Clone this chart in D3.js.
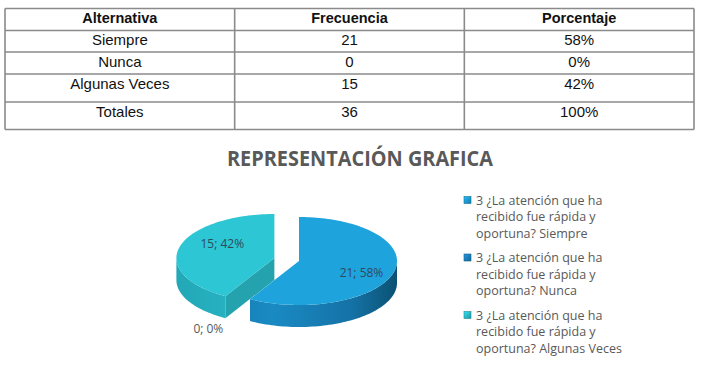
<!DOCTYPE html>
<html><head><meta charset="utf-8">
<script src="https://cdn.jsdelivr.net/npm/d3@7"></script>
<style>html,body{margin:0;padding:0;background:#fff;}svg{display:block;}</style>
</head><body>
<script>
const headers = ["Alternativa", "Frecuencia", "Porcentaje"];
const categories = ["Siempre", "Nunca", "Algunas Veces"];
const frecuencia = [21, 0, 15];
const porcentaje = ["58%", "0%", "42%"];
const totalRow = ["Totales", "36", "100%"];
const chartTitle = "REPRESENTACIÓN GRAFICA";
const legendPrefix = ["3 ¿La atención que ha", "recibido fue rápida y", "oportuna? "];
const sliceColors = ["#1fa3dc", "#1e86c8", "#2cc6d4"];

const W = 701, H = 374;
const svg = d3.select("body").append("svg").attr("width", W).attr("height", H);

// ---------- TABLE ----------
const rowEdges = [8.5, 30.5, 52, 74, 102, 129.5];
const xCol = d3.scaleBand().domain(headers).range([5, 694]);
const rows = [headers].concat(categories.map((c, i) => [c, String(frecuencia[i]), porcentaje[i]]), [totalRow]);
const tg = svg.append("g");
rows.forEach((r, ri) => {
  r.forEach((t, ci) => {
    const cx = xCol(headers[ci]) + xCol.bandwidth() / 2;
    const cy = rowEdges[ri] + 14.8;
    tg.append("text")
      .attr("x", cx).attr("y", cy)
      .attr("text-anchor", "middle")
      .attr("font-family", "Liberation Sans, Arial, sans-serif")
      .attr("font-size", ri === 0 ? 14.5 : 15)
      .attr("font-weight", ri === 0 ? "bold" : "normal")
      .attr("fill", "#111")
      .text(t);
  });
});
rowEdges.forEach(y => tg.append("line").attr("x1", 5).attr("x2", 694).attr("y1", y).attr("y2", y)
  .attr("stroke", "#8a8a8a").attr("stroke-width", 1.6));
[5, xCol(headers[1]), xCol(headers[2]), 694].forEach(x => tg.append("line").attr("x1", x).attr("x2", x)
  .attr("y1", rowEdges[0]).attr("y2", rowEdges[rowEdges.length - 1]).attr("stroke", "#8a8a8a").attr("stroke-width", 1.6));

// ---------- TITLE ----------
svg.append("text").attr("x", 360).attr("y", 165.5).attr("text-anchor", "middle")
  .attr("font-family", "Open Sans, sans-serif").attr("font-weight", "bold").attr("font-size", 21)
  .attr("textLength", 266).attr("lengthAdjust", "spacingAndGlyphs")
  .attr("fill", "#595959").text(chartTitle);

// ---------- 3D PIE ----------
const defs = svg.append("defs");
const C = [299, 261], rx = 98, ry = 44, depth = 22;
const explode = [0, 0, 0.26];
const total = d3.sum(frecuencia);
const pie = d3.pie().sort(null).value(d => d);
const arcs = pie(frecuencia);

const sideGrads = [
  [["0", "#0f6ea3"], ["0.45", "#1a8ac3"], ["0.8", "#1572a6"], ["1", "#0b5273"]],
  [["0", "#0f6ea3"], ["1", "#0b5273"]],
  [["0", "#22a7b6"], ["0.5", "#2bbccb"], ["1", "#1f9dac"]]
];
sideGrads.forEach((stops, i) => {
  const g = defs.append("linearGradient").attr("id", "side" + i).attr("gradientUnits", "userSpaceOnUse")
    .attr("x1", C[0] - rx - 30).attr("x2", C[0] + rx).attr("y1", 0).attr("y2", 0);
  stops.forEach(s => g.append("stop").attr("offset", s[0]).attr("stop-color", s[1]));
});
sliceColors.forEach((c, i) => {
  const g = defs.append("linearGradient").attr("id", "leg" + i).attr("x1", 0).attr("x2", 1).attr("y1", 0).attr("y2", 1);
  g.append("stop").attr("offset", "0").attr("stop-color", d3.color(c).brighter(0.4));
  g.append("stop").attr("offset", "1").attr("stop-color", d3.color(c).darker(0.8));
});

function pt(c, th, k, dy) { return [c[0] + rx * k * Math.sin(th), c[1] - ry * k * Math.cos(th) + (dy || 0)]; }
function arcPts(c, a0, a1, dy) {
  const n = Math.max(2, Math.ceil(Math.abs(a1 - a0) / 0.03));
  return d3.range(n + 1).map(i => pt(c, a0 + (a1 - a0) * i / n, 1, dy));
}
const line = d3.line();
const pg = svg.append("g");
const order = [2, 0];
order.forEach(i => {
  const a = arcs[i];
  if (a.endAngle - a.startAngle <= 0) return;
  const mid = (a.startAngle + a.endAngle) / 2;
  const c = [C[0] + rx * explode[i] * Math.sin(mid), C[1] - ry * explode[i] * Math.cos(mid)];
  const a0 = a.startAngle, a1 = a.endAngle;
  const base = d3.color(sliceColors[i]);
  if (Math.sin(a0) < -0.01) {
    const p = pt(c, a0, 1);
    pg.append("path").attr("d", line([c, p, [p[0], p[1] + depth], [c[0], c[1] + depth]]) + "Z")
      .attr("fill", base.darker(0.55));
  }
  if (Math.sin(a1) > 0.01) {
    const p = pt(c, a1, 1);
    pg.append("path").attr("d", line([c, p, [p[0], p[1] + depth], [c[0], c[1] + depth]]) + "Z")
      .attr("fill", base.darker(0.55));
  }
  const s = Math.max(a0, Math.PI / 2), e = Math.min(a1, 3 * Math.PI / 2);
  if (e > s) {
    const top = arcPts(c, s, e, 0), bot = arcPts(c, e, s, depth);
    pg.append("path").attr("d", line(top.concat(bot)) + "Z").attr("fill", `url(#side${i})`);
  }
  pg.append("path").attr("d", line([c].concat(arcPts(c, a0, a1, 0))) + "Z").attr("fill", sliceColors[i]);
});

// labels
const labelK = [0.66, 1.85, 0.55];
const labelDy = [4, -2, -8];
arcs.forEach((a, i) => {
  const mid = (a.startAngle + a.endAngle) / 2;
  const c = [C[0] + rx * explode[i] * Math.sin(mid), C[1] - ry * explode[i] * Math.cos(mid)];
  const p = pt(c, mid, labelK[i], labelDy[i]);
  svg.append("text").attr("x", p[0]).attr("y", p[1] + 4).attr("text-anchor", "middle")
    .attr("font-family", "Open Sans, sans-serif").attr("font-size", 12).attr("fill", i === 1 ? "#595959" : "#2f4a5c")
    .text(`${a.data}; ${Math.round(a.data / total * 100)}%`);
});

// ---------- LEGEND ----------
const lg = svg.append("g");
const itemY = d3.scaleLinear().domain([0, 2]).range([200, 315]);
categories.forEach((cat, i) => {
  const y0 = itemY(i);
  lg.append("rect").attr("x", 464).attr("y", y0 - 3.5).attr("width", 7).attr("height", 7)
    .attr("fill", `url(#leg${i})`).attr("stroke", d3.color(sliceColors[i]).darker(1)).attr("stroke-width", 0.6);
  const lines = legendPrefix.slice(0, 2).concat([legendPrefix[2] + cat]);
  lines.forEach((t, li) => {
    lg.append("text").attr("x", 476).attr("y", y0 + 4.5 + li * 16.5)
      .attr("font-family", "Open Sans, sans-serif").attr("font-size", 12.5).attr("fill", "#595959").text(t);
  });
});
</script>
</body></html>
